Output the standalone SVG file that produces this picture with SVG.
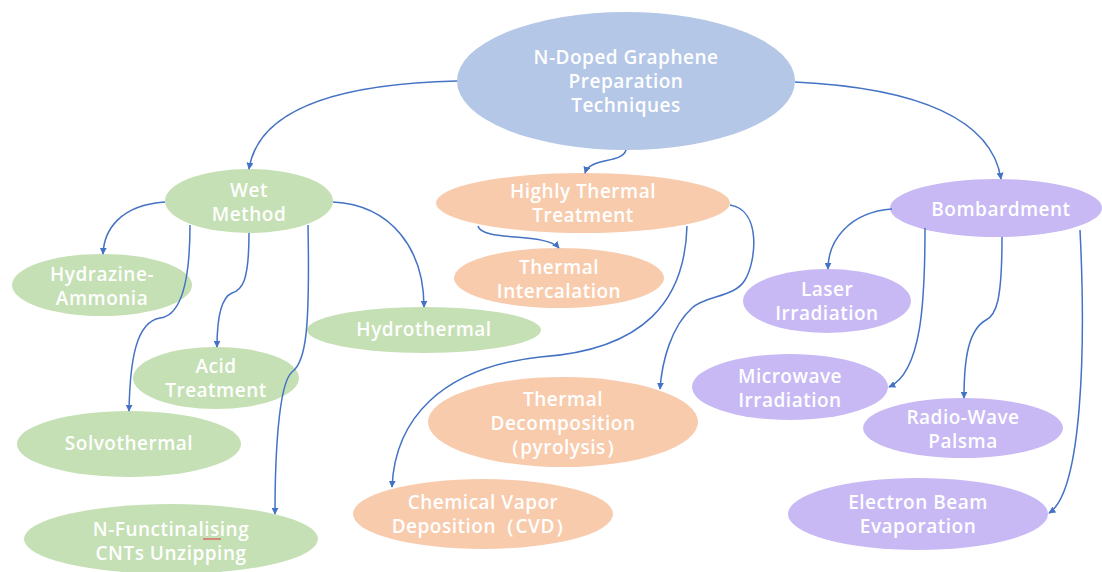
<svg xmlns="http://www.w3.org/2000/svg" width="1102" height="572" viewBox="0 0 1102 572">
<defs>
<style>
.t{font-family:"Open Sans","Noto Sans","Liberation Sans",sans-serif;font-size:19px;font-weight:600;fill:#ffffff;text-anchor:middle;letter-spacing:0.5px}
.root{fill:#b4c7e7}
.g{fill:#c5e0b4}
.o{fill:#f8cbad}
.p{fill:#c8b9f5}
.c{fill:none;stroke:#4472c4;stroke-width:1.5;marker-end:url(#ah)}
</style>
<marker id="ah" viewBox="0 0 10 10" refX="9" refY="5" markerWidth="7" markerHeight="7" orient="auto-start-reverse" markerUnits="userSpaceOnUse">
<path d="M0,0 L10,5 L0,10 z" fill="#4472c4"/>
</marker>
</defs>
<rect width="1102" height="572" fill="#ffffff"/>
<g id="n-root"><ellipse class="root" cx="626" cy="81" rx="169" ry="69"/>
<text class="t" x="626" y="64">N-Doped Graphene</text><text class="t" x="626" y="88">Preparation</text><text class="t" x="626" y="112">Techniques</text></g>
<g id="n-wet"><ellipse class="g" cx="249" cy="201" rx="84" ry="32"/>
<text class="t" x="249" y="197">Wet</text><text class="t" x="249" y="221">Method</text></g>
<g id="n-hydrazine"><ellipse class="g" cx="102" cy="285" rx="90" ry="31"/>
<text class="t" x="102" y="281">Hydrazine-</text><text class="t" x="102" y="305">Ammonia</text></g>
<g id="n-acid"><ellipse class="g" cx="216" cy="378" rx="83" ry="31"/>
<text class="t" x="216" y="373">Acid</text><text class="t" x="216" y="397">Treatment</text></g>
<g id="n-solvo"><ellipse class="g" cx="129" cy="444" rx="112" ry="33"/>
<text class="t" x="129" y="450">Solvothermal</text></g>
<g id="n-nfunc"><ellipse class="g" cx="171" cy="539" rx="147" ry="35"/>
<text class="t" x="171" y="536">N-Functinalising</text><text class="t" x="171" y="560">CNTs Unzipping</text>
<path d="M203,539 L221,539" fill="none" stroke="#d9534f" stroke-width="1.2"/></g>
<g id="n-hydrothermal"><ellipse class="g" cx="424" cy="330" rx="117" ry="23"/>
<text class="t" x="424" y="336">Hydrothermal</text></g>
<g id="n-htt"><ellipse class="o" cx="583" cy="203" rx="147" ry="30"/>
<text class="t" x="583" y="198">Highly Thermal</text><text class="t" x="583" y="222">Treatment</text></g>
<g id="n-intercal"><ellipse class="o" cx="559" cy="278" rx="105" ry="30"/>
<text class="t" x="559" y="274">Thermal</text><text class="t" x="559" y="298">Intercalation</text></g>
<g id="n-decomp"><ellipse class="o" cx="563" cy="422" rx="135" ry="45"/>
<text class="t" x="563" y="406">Thermal</text><text class="t" x="563" y="430">Decomposition</text><text class="t" x="563" y="454">（pyrolysis）</text></g>
<g id="n-cvd"><ellipse class="o" cx="483" cy="514" rx="130" ry="35"/>
<text class="t" x="483" y="509">Chemical Vapor</text><text class="t" x="483" y="533">Deposition（CVD）</text></g>
<g id="n-bomb"><ellipse class="p" cx="996" cy="208" rx="106" ry="29"/>
<text class="t" x="1001" y="216">Bombardment</text></g>
<g id="n-laser"><ellipse class="p" cx="827" cy="301" rx="84" ry="32"/>
<text class="t" x="827" y="296">Laser</text><text class="t" x="827" y="320">Irradiation</text></g>
<g id="n-micro"><ellipse class="p" cx="790" cy="387" rx="98" ry="33"/>
<text class="t" x="790" y="383">Microwave</text><text class="t" x="790" y="407">Irradiation</text></g>
<g id="n-radio"><ellipse class="p" cx="963" cy="428" rx="100" ry="30"/>
<text class="t" x="963" y="424">Radio-Wave</text><text class="t" x="963" y="448">Palsma</text></g>
<g id="n-ebeam"><ellipse class="p" cx="918" cy="514" rx="130" ry="36"/>
<text class="t" x="918" y="509">Electron Beam</text><text class="t" x="918" y="533">Evaporation</text></g>
<g id="connectors">
<path class="c" d="M457,81 C 330,84 258,112 249,169"/>
<path class="c" d="M626,150 C 622,164 590,157 585,173"/>
<path class="c" d="M795,82 C 920,88 992,120 1001,179"/>
<path class="c" d="M165,202 C 120,205 104,230 103,254"/>
<path class="c" d="M190,225 C 190,290 178,316 160,318 C 136,322 130,360 129,411"/>
<path class="c" d="M249,233 C 249,282 242,290 232,293 C 220,298 217,320 217,347"/>
<path class="c" d="M308,225 C 310,330 306,362 292,372 C 278,384 275,460 275,514"/>
<path class="c" d="M333,202 C 392,205 424,250 424,307"/>
<path class="c" d="M478,226 C 482,242 545,232 559,248"/>
<path class="c" d="M687,226 C 685,300 645,350 540,357 C 440,368 395,420 392,487"/>
<path class="c" d="M730,205 C 762,210 756,262 745,280 C 734,298 706,295 692,308 C 672,326 662,360 660,389"/>
<path class="c" d="M892,209 C 850,212 828,240 828,269"/>
<path class="c" d="M925,228 C 925,300 922,372 889,387"/>
<path class="c" d="M1002,237 C 1002,302 996,315 986,320 C 968,330 964,360 964,398"/>
<path class="c" d="M1080,230 C 1086,350 1082,492 1049,513"/>
</g>
</svg>
